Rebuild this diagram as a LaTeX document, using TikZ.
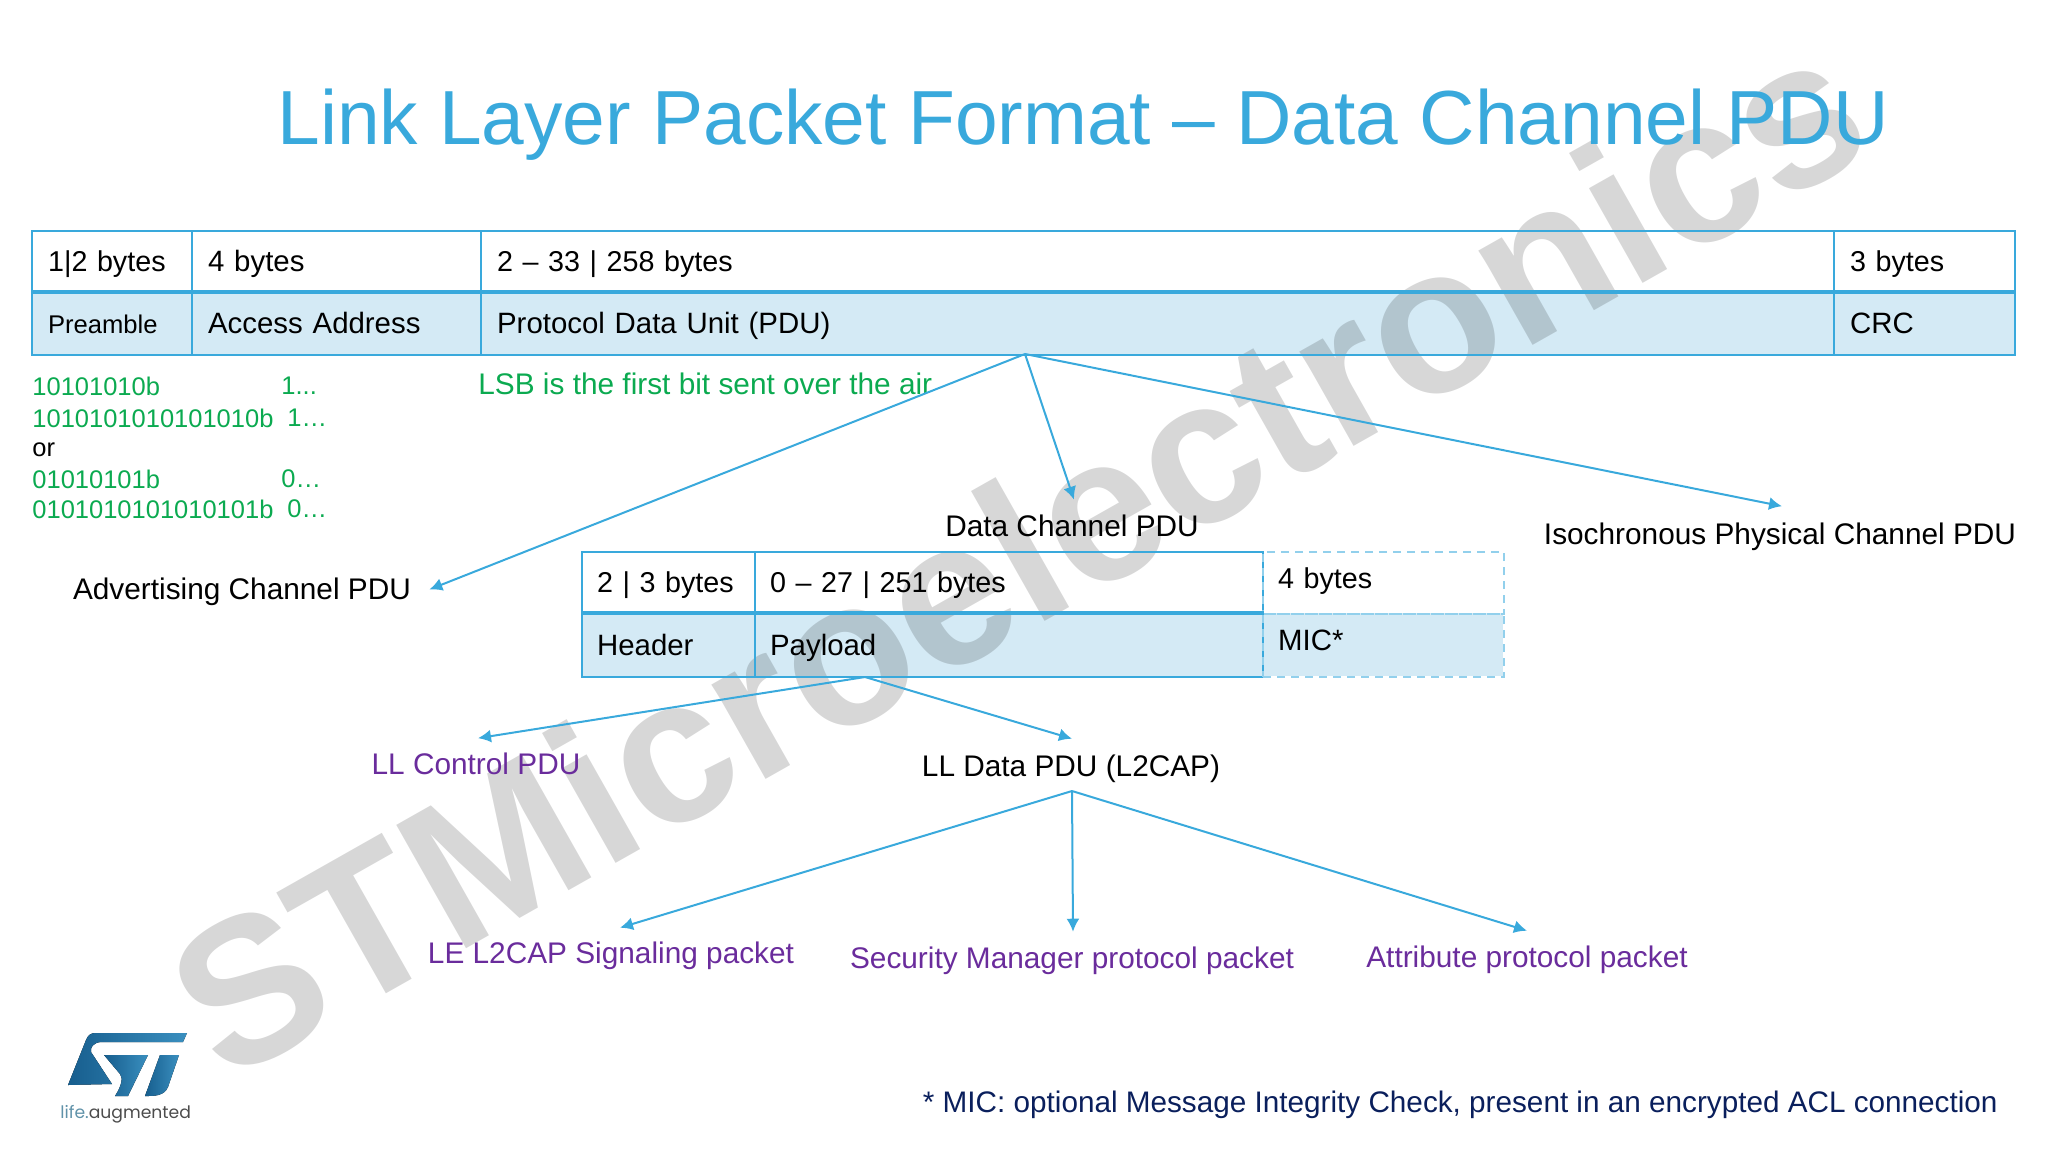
\documentclass[tikz,border=0pt]{standalone}
\usepackage{fontspec}
\setmainfont{Liberation Sans}
\newfontfamily\logofont{Poppins}
\usetikzlibrary{arrows.meta}
\definecolor{stblue}{HTML}{39A9DC}
\definecolor{stfill}{HTML}{D4EAF5}
\definecolor{stgreen}{HTML}{0BAA50}
\definecolor{stpurple}{HTML}{6A2C9C}
\definecolor{stnavy}{HTML}{0A1F5C}
\definecolor{logoA}{HTML}{175E8E}
\definecolor{logoB}{HTML}{3A8FBF}
\newcommand{\fs}[1]{\fontsize{#1}{#1}\selectfont}
\tikzset{
  x=0.5pt,y=-0.5pt,
  cell/.style={draw=stblue,line width=1.1pt,anchor=north west,inner xsep=8pt,inner ysep=0pt,align=left,
    text height=11.7pt,text depth=2.3pt,font=\fs{14.7}},
  cw/.style={minimum width=#1*0.5pt,text width=#1*0.5pt-16pt},
  cwt/.style={inner xsep=7.5pt,minimum width=#1*0.5pt,text width=#1*0.5pt-15pt},
  ch/.style={minimum height=#1*0.5pt},
  narrow/.style={font=\fs{14.35}},
  dashcell/.style={draw=stblue!55,dash pattern=on 4pt off 3pt,text height=12pt,text depth=7pt,inner xsep=7pt},
  lbl/.style={inner sep=0pt,font=\fs{14.9},anchor=center},
  bits/.style={inner sep=0pt,font=\fs{12.75},anchor=west,text=stgreen},
  conn/.style={draw=stblue,line width=1pt,-{Latex[length=6.5pt,width=6.5pt]}},
  divider/.style={draw=stblue,line width=2.2pt},
  logo/.style={draw=none,left color=logoA,right color=logoB},
}
\begin{document}
\begin{tikzpicture}
\useasboundingbox (0,0) rectangle (2048,1152);
% cell tints lie under the watermark
\fill[stfill] (31,292) rectangle (2014,354);
\fill[stfill] (581,613) rectangle (1503,676);
% watermark
\node[inner sep=0pt,rotate=29.5,text=black,text opacity=0.155,font=\fs{103}\bfseries] (wm) at (1016,553) {STMicroelectronics};
\node[inner sep=0pt,anchor=base west,text=stblue,font=\fs{38.35}] (title) at (277,144) {Link Layer Packet Format – Data Channel PDU};
% main table
\node[cell,narrow,cw=160,ch=62] (c1) at (31,230) {1|2 bytes};
\node[cell,cw=289,ch=62] (c2) at (191,230) {4 bytes};
\node[cell,narrow,cw=1353,ch=62] (c3) at (480,230) {2 – 33 | 258 bytes};
\node[cell,narrow,cw=181,ch=62] (c4) at (1833,230) {3 bytes};
\node[cell,cw=160,ch=62,font=\fs{12.8}] (p1) at (31,292) {Preamble};
\node[cell,cw=289,ch=62] (p2) at (191,292) {Access Address};
\node[cell,cw=1353,ch=62] (p3) at (480,292) {Protocol Data Unit (PDU)};
\node[cell,cw=181,ch=62] (p4) at (1833,292) {CRC};
\draw[divider] (p1.north west) -- (p4.north east);
% bit patterns
\node[bits] (b1) at (32,386) {10101010b};
\node[bits] (b1b) at (281,386) {1...};
\node[bits] (b2) at (32,418) {1010101010101010b};
\node[bits] (b2b) at (287,418) {1…};
\node[bits,text=black] (b3) at (32,450) {or};
\node[bits] (b4) at (32,479) {01010101b};
\node[bits] (b4b) at (281,479) {0…};
\node[bits] (b5) at (32,509) {0101010101010101b};
\node[bits] (b5b) at (287,509) {0…};
\node[lbl,anchor=west,text=stgreen] (lsb) at (478,384) {LSB is the first bit sent over the air};
% PDU kinds
\node[lbl] (adv) at (242,591.5) {Advertising Channel PDU};
\node[lbl] (data) at (1072,526) {Data Channel PDU};
\node[lbl] (iso) at (1780,536.5) {Isochronous Physical Channel PDU};
% second table
\node[cell,narrow,cwt=173,ch=62] (h1) at (581,551) {2 | 3 bytes};
\node[cell,narrow,cwt=508,ch=62] (h2) at (754,551) {0 – 27 | 251 bytes};
\node[cell,narrow,dashcell,cwt=241,inner xsep=6.5pt,ch=62] (h3) at (1262,551) {4 bytes};
\node[cell,cwt=173,ch=63] (f1) at (581,613) {Header};
\node[cell,cwt=508,ch=63] (f2) at (754,613) {Payload};
\node[cell,dashcell,cwt=241,inner xsep=6.5pt,ch=63] (f3) at (1262,613) {MIC*};
\draw[divider] (f1.north west) -- (f2.north east);
% lower labels
\node[lbl,text=stpurple] (ctl) at (476,763.5) {LL Control PDU};
\node[lbl] (l2) at (1071,769) {LL Data PDU (L2CAP)};
\node[lbl,text=stpurple] (sig) at (611,956) {LE L2CAP Signaling packet};
\node[lbl,text=stpurple] (sm) at (1072,961) {Security Manager protocol packet};
\node[lbl,text=stpurple] (att) at (1527,960) {Attribute protocol packet};
\node[lbl,anchor=east,text=stnavy,font=\fs{14.85}] (note) at (1998,1105) {* MIC: optional Message Integrity Check, present in an encrypted ACL connection};
% connectors
\coordinate (pduout) at (1025,354);
\coordinate (payout) at (865,677);
\coordinate (l2out) at (1072,791);
\draw[conn] (pduout) -- ([xshift=9pt,yshift=1pt]adv.east);
\draw[conn] (pduout) -- ([xshift=1pt,yshift=7.5pt]data.north);
\draw[conn] (pduout) -- ([xshift=1pt,yshift=8pt]iso.north);
\draw[conn] (payout) -- ([xshift=1pt,yshift=7pt]ctl.north);
\draw[conn] (payout) -- ([xshift=0.5pt,yshift=8pt]l2.north);
\draw[conn] (l2out) -- ([xshift=4.5pt,yshift=7pt]sig.north);
\draw[conn] (l2out) -- ([xshift=0.5pt,yshift=7.5pt]sm.north);
\draw[conn] (l2out) -- ([yshift=7.5pt]att.north);
% logo
\fill[logo] (95,1033) -- (187,1033) -- (183,1042) -- (102,1042) .. controls (93,1042) and (90,1048) .. (91,1052) -- (112,1084) -- (68,1085) -- (86,1040) .. controls (88,1035) and (91,1033) .. (95,1033) -- cycle;
\fill[logo] (104,1055) -- (148,1055) -- (128,1096) -- (115,1096) .. controls (122,1085) and (123,1078) .. (120,1074) -- cycle;
\fill[logo] (160,1055) -- (179,1055) -- (168,1087) .. controls (164,1096) and (155,1096) .. (145,1096) -- cycle;
\node[inner sep=0pt,anchor=base west,font=\logofont\fs{8.6}] (life) at (60,1118) {\textcolor{stblue!45!gray}{life.}\textcolor{black!70}{augmented}};
\end{tikzpicture}
\end{document}
